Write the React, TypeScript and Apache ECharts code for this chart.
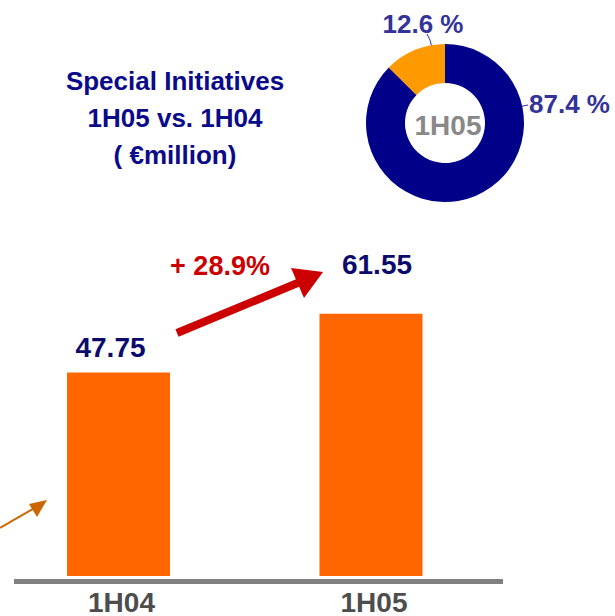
import React, { useEffect, useRef } from "react";
import * as echarts from "echarts";

const categories = ["1H04", "1H05"];
const values = [47.75, 61.55];
const shareLabels = ["Other", "Special Initiatives"];
const shareValues = [87.4, 12.6];
const donutCenterLabel = "1H05";
const titleLines = ["Special Initiatives", "1H05 vs. 1H04", "( €million)"];

const FONT = 'Arial, "Liberation Sans", Helvetica, sans-serif';

export default function App() {
  const ref = useRef<HTMLDivElement>(null);
  useEffect(() => {
    if (!ref.current) return;
    const chart = echarts.init(ref.current, null, { renderer: "svg" });
    const growth = ((values[1] / values[0] - 1) * 100).toFixed(1);
    const labelOffsets = [
      [-8, -6],
      [6, -30],
    ];
    const option: any = {
      animation: false,
      backgroundColor: "#ffffff",
      grid: { left: 118.5, right: 244, top: 235, bottom: 40 },
      xAxis: {
        type: "category",
        data: categories,
        boundaryGap: false,
        axisLine: { show: false },
        axisTick: { show: false },
        splitLine: { show: false },
        axisLabel: {
          color: "#4d4d4d",
          fontFamily: FONT,
          fontWeight: "bold",
          fontSize: 28,
          margin: 12,
          padding: [0, 0, 0, 6],
        },
      },
      yAxis: { type: "value", min: 0, max: 80, show: false },
      series: [
        {
          type: "bar",
          barWidth: 103,
          clip: false,
          silent: true,
          itemStyle: { color: "#ff6600" },
          data: values.map((v, i) => ({
            value: v,
            label: {
              show: true,
              position: "top",
              distance: 5,
              offset: labelOffsets[i],
              formatter: (p: any) => p.value.toFixed(2),
              color: "#0b0b6b",
              fontFamily: FONT,
              fontWeight: "bold",
              fontSize: 28,
            },
          })),
        },
        {
          type: "pie",
          center: [445, 123],
          radius: [40, 79],
          startAngle: 90,
          clockwise: true,
          silent: true,
          label: {
            show: true,
            position: "outside",
            formatter: "{c} %",
            color: "#333399",
            fontFamily: FONT,
            fontWeight: "bold",
            fontSize: 26,
          },
          labelLine: {
            show: true,
            length: 5,
            length2: 5,
            lineStyle: { color: "#2e2ea0", width: 1 },
          },
          labelLayout: (params: any) => {
            if (params.dataIndex === 0) {
              return {
                x: 529,
                y: 104,
                align: "left",
                verticalAlign: "middle",
                labelLinePoints: [
                  [512, 108],
                  [520, 106.5],
                  [528, 105],
                ],
              };
            }
            return {
              x: 423,
              y: 24,
              align: "center",
              verticalAlign: "middle",
              labelLinePoints: [
                [432, 48],
                [430, 40],
                [427, 34],
              ],
            };
          },
          data: shareValues.map((v, i) => ({
            name: shareLabels[i],
            value: v,
            itemStyle: { color: i === 0 ? "#000088" : "#ff9900" },
          })),
        },
      ],
      graphic: [
        {
          type: "text",
          x: 175,
          y: 118,
          style: {
            text: titleLines.join("\n"),
            font: `bold 26px ${FONT}`,
            lineHeight: 37,
            fill: "#0a0a8a",
            align: "center",
            verticalAlign: "middle",
          },
        },
        {
          type: "text",
          x: 448,
          y: 125,
          style: {
            text: donutCenterLabel,
            font: `bold 28px ${FONT}`,
            fill: "#888888",
            align: "center",
            verticalAlign: "middle",
          },
        },
        {
          type: "text",
          x: 220,
          y: 266,
          style: {
            text: `+ ${growth}%`,
            font: `bold 27px ${FONT}`,
            fill: "#cc0000",
            align: "center",
            verticalAlign: "middle",
          },
        },
        {
          type: "line",
          shape: { x1: 177, y1: 333, x2: 300, y2: 282 },
          style: { stroke: "#cc0000", lineWidth: 8 },
        },
        {
          type: "polygon",
          shape: {
            points: [
              [323, 272],
              [291, 268],
              [304, 298],
            ],
          },
          style: { fill: "#cc0000" },
        },
        {
          type: "line",
          shape: { x1: 0, y1: 528, x2: 38, y2: 506 },
          style: { stroke: "#cc6600", lineWidth: 2 },
        },
        {
          type: "polygon",
          shape: {
            points: [
              [47, 500],
              [29, 504],
              [37, 517],
            ],
          },
          style: { fill: "#cc6600" },
        },
        {
          type: "line",
          shape: { x1: 14, y1: 581.5, x2: 503, y2: 581.5 },
          style: { stroke: "#808080", lineWidth: 5 },
        },
      ],
    };
    chart.setOption(option);
    return () => chart.dispose();
  }, []);
  return (
    <div
      ref={ref}
      style={{ position: "absolute", left: 0, top: 0, width: 615, height: 616 }}
    />
  );
}
